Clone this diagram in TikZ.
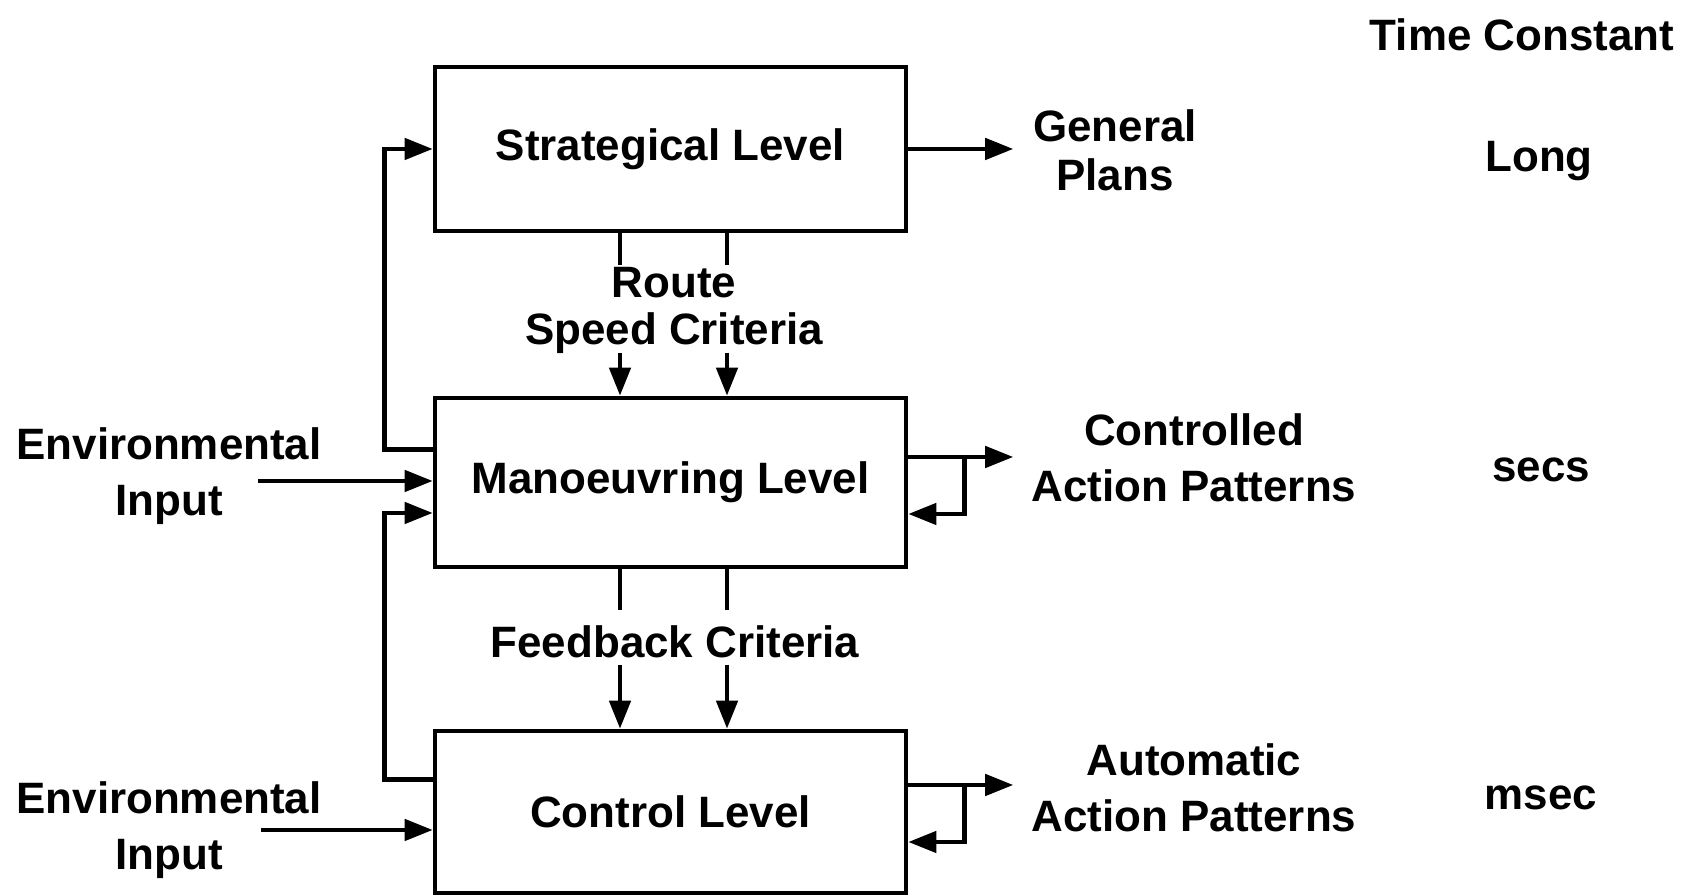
\documentclass[tikz,border=0pt]{standalone}
\usepackage{fontspec}
\setmainfont{Liberation Sans}
\usetikzlibrary{arrows.meta,positioning,calc}
\tikzset{
  levelbox/.style={draw, line width=1.3pt, minimum width=4.71cm, inner sep=0pt, font=\fontsize{12.5}{15}\selectfont\bfseries},
  txt/.style={align=center, inner sep=0pt, font=\fontsize{12.5}{15}\selectfont\bfseries},
  wire/.style={line width=1.3pt},
  flow/.style={line width=1.3pt, -{Triangle[length=8pt,width=6pt]}}
}

\begin{document}
\begin{tikzpicture}
  \useasboundingbox (0,0) rectangle (16.86,8.96);

  % Levels
  \node[levelbox, minimum height=1.64cm] (strat) at (6.705,7.47) {Strategical Level};
  \node[levelbox, minimum height=1.69cm] (man) at (6.705,4.135) {Manoeuvring Level};
  \node[levelbox, minimum height=1.62cm] (ctrl) at (6.705,0.84) {Control Level};

  % Criteria passed down
  \node[txt, font=\fontsize{12.5}{13.4}\selectfont\bfseries] (route) at (6.74,5.855) {Route\\Speed Criteria};
  \draw[wire] ($(strat.south)+(-0.505,0)$) -- ++(0,-0.32);
  \draw[wire] ($(strat.south)+(0.565,0)$) -- ++(0,-0.32);
  \draw[flow] ($(man.north)+(-0.505,0.43)$) -- ($(man.north)+(-0.505,0)$);
  \draw[flow] ($(man.north)+(0.565,0.43)$) -- ($(man.north)+(0.565,0)$);

  \node[txt] (feedback) at (6.75,2.54) {Feedback Criteria};
  \draw[wire] ($(man.south)+(-0.505,0)$) -- ++(0,-0.41);
  \draw[wire] ($(man.south)+(0.565,0)$) -- ++(0,-0.41);
  \draw[flow] ($(ctrl.north)+(-0.505,0.64)$) -- ($(ctrl.north)+(-0.505,0)$);
  \draw[flow] ($(ctrl.north)+(0.565,0.64)$) -- ($(ctrl.north)+(0.565,0)$);

  % Feedback upwards
  \draw[flow] ($(man.west)+(0,0.33)$) -- ++(-0.48,0) |- (strat.west);
  \draw[flow] ($(ctrl.west)+(0,0.324)$) -- ++(-0.48,0) |- ($(man.west)+(0,-0.305)$);

  % Environmental inputs
  \node[txt, font=\fontsize{12.5}{16}\selectfont\bfseries] (env1) at (1.69,4.195) {Environmental\\Input};
  \node[txt, font=\fontsize{12.5}{16}\selectfont\bfseries] (env2) at (1.69,0.655) {Environmental\\Input};
  \coordinate (envin1) at (2.58,4.15);
  \coordinate (envin2) at (2.61,0.66);
  \draw[flow] (envin1) -- (envin1 -| man.west);
  \draw[flow] (envin2) -- (envin2 -| ctrl.west);

  % Outputs
  \node[txt, font=\fontsize{12.5}{14}\selectfont\bfseries] (plans) at (11.15,7.455) {General\\Plans};
  \node[txt, font=\fontsize{12.5}{16}\selectfont\bfseries] (ctrlact) at (11.94,4.38) {Controlled\\Action Patterns};
  \node[txt, font=\fontsize{12.5}{16}\selectfont\bfseries] (autoact) at (11.94,1.08) {Automatic\\Action Patterns};
  \draw[flow] (strat.east) -- ++(1.05,0);
  \draw[flow] ($(man.east)+(0,0.255)$) -- ++(1.05,0);
  \draw[flow] ($(man.east)+(0.56,0.255)$) |- ($(man.east)+(0,-0.315)$);
  \draw[flow] ($(ctrl.east)+(0,0.27)$) -- ++(1.05,0);
  \draw[flow] ($(ctrl.east)+(0.56,0.27)$) |- ($(ctrl.east)+(0,-0.30)$);

  % Time constants
  \node[txt] (tchead) at (15.22,8.61) {Time Constant};
  \node[txt] (tlong) at (15.39,7.35) {Long};
  \node[txt] (tsecs) at (15.41,4.26) {secs};
  \node[txt] (tmsec) at (15.41,0.98) {msec};
\end{tikzpicture}
\end{document}
